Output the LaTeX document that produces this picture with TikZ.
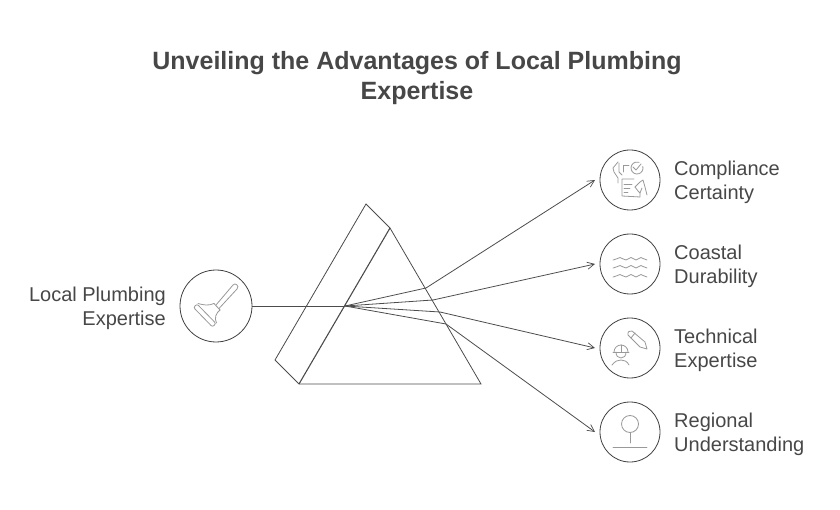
\documentclass[tikz,border=0pt]{standalone}
\usepackage{fontspec}
\setmainfont{Liberation Sans}
\usetikzlibrary{arrows.meta}
\tikzset{
  x=1pt,y=-1pt,
  ink/.style={draw=black!70,line width=0.8pt},
  ring/.style={circle,draw=black!75,line width=0.8pt,minimum size=60pt,inner sep=0pt,fill=white},
  beam/.style={draw=black!70,line width=0.8pt},
  ray/.style={beam,-{Straight Barb[length=7pt,width=7pt,line width=0.7pt]}},
  glyph/.style={draw=black!40,line width=0.8pt,line join=round,line cap=round},
  lab/.style={text=black!72,font=\fontsize{20}{24}\selectfont,inner sep=0pt},
  ttl/.style={text=black!72,font=\bfseries\fontsize{25}{30}\selectfont,align=center,inner sep=0pt}
}
\begin{document}
\begin{tikzpicture}
\useasboundingbox (0,0) rectangle (840,510);
\node[ttl] (title) at (417,78.5) {Unveiling the Advantages of Local Plumbing\\Expertise};

% prism
\coordinate (pt) at (390,228);
\coordinate (pb) at (299,384);
\coordinate (pr) at (481,384);
\coordinate (ft) at (366,204);
\coordinate (fb) at (275,360);
\coordinate (hit) at (345,306);
\draw[ink] (pt) -- (pr) -- (pb);
\draw[ink,line width=1.1pt] (pb) -- (pt);
\draw[ink] (pt) -- (ft) -- (fb) -- (pb);

% nodes
\node[ring,minimum size=72pt] (src) at (216,306) {};
\node[ring] (n1) at (630,180) {};
\node[ring] (n2) at (630,264) {};
\node[ring] (n3) at (630,348) {};
\node[ring] (n4) at (630,432) {};

% labels
\node[lab,anchor=east,align=right] (lsrc) at (166,308) {Local Plumbing\\Expertise};
\node[lab,anchor=west,align=left] (l1) at (674,182) {Compliance\\Certainty};
\node[lab,anchor=west,align=left] (l2) at (674,266) {Coastal\\Durability};
\node[lab,anchor=west,align=left] (l3) at (674,350) {Technical\\Expertise};
\node[lab,anchor=west,align=left] (l4) at (674,434) {Regional\\Understanding};

% beams
\coordinate (e1) at (426,288);
\coordinate (e2) at (433,300);
\coordinate (e3) at (440,312);
\coordinate (e4) at (446,324);
\coordinate (t1) at (595,180);
\coordinate (t2) at (595,264);
\coordinate (t3) at (595,348);
\coordinate (t4) at (595,432);
\draw[beam] (src) -- (hit);
\draw[beam] (hit) -- (e1);
\draw[beam] (hit) -- (e2);
\draw[beam] (hit) -- (e3);
\draw[beam] (hit) -- (e4);
\draw[ray] (e1) -- (t1);
\draw[ray] (e2) -- (t2);
\draw[ray] (e3) -- (t3);
\draw[ray] (e4) -- (t4);

% plunger
\draw[glyph,rounded corners=2pt] (193.5,307.5) -- (197,304) -- (216,323.5) -- (212.5,327) -- cycle;
\draw[glyph] (198,303.5) .. controls (203,305) and (209,306) .. (214,303.5);
\draw[glyph] (216.5,323) .. controls (214,318) and (216,313) .. (220,310);
\draw[glyph] (214,303.5) -- (220,310);
\draw[glyph] (216,305) -- (233,285) .. controls (235,282) and (240,286) .. (237,289) -- (219,308.5);

% compliance icon
\draw[glyph] (634,179) -- (622,179) -- (622,196) -- (640,197) -- (640,193);
\draw[glyph] (629,165) -- (623,165) -- (623,172);
\draw[glyph] (624,184) -- (632,184);
\draw[glyph] (624,188) -- (630,188);
\draw[glyph] (624,192) -- (628,192);
\draw[glyph] (642.8,166.45) arc[start angle=-15,end angle=290,radius=6];
\draw[glyph] (633,167) -- (636,170) -- (641,164);
\draw[glyph] (618,162) -- (613,168) -- (614,172) -- (618,178) -- (618,183);
\draw[glyph] (619,163) -- (619,172) -- (622,175);
\draw[glyph] (635,187) -- (640,182) -- (643,180) -- (645,187) -- (647,195);
\draw[glyph] (635,187) -- (638,191) -- (640,193) -- (642,188);

% waves
\foreach \yy in {260,268,277}{
  \draw[glyph] (613,\yy) .. controls (616,\yy) and (618,\yy-2.5) .. (620,\yy-2.5)
    .. controls (622,\yy-2.5) and (623,\yy) .. (626,\yy)
    .. controls (628,\yy) and (629,\yy-2.5) .. (631,\yy-2.5)
    .. controls (633,\yy-2.5) and (634,\yy) .. (636,\yy)
    .. controls (638,\yy) and (639,\yy-2.5) .. (641,\yy-2.5)
    .. controls (643,\yy-2.5) and (644,\yy) .. (647,\yy);
}

% technical icon
\draw[glyph] (614,352) arc[start angle=180,end angle=360,radius=7];
\draw[glyph] (613,352) -- (629,352);
\draw[glyph] (621,345) -- (621,352);
\draw[glyph] (616,352) .. controls (616,356) and (618,358) .. (621,358)
  .. controls (624,358) and (626,356) .. (626,352);
\draw[glyph] (612,365) .. controls (615,361) and (618,360) .. (621,360)
  .. controls (624,360) and (627,361) .. (629,365);
\draw[glyph] (632,331) -- (645,342) -- (647,349) -- (640,347) -- (628,335)
  .. controls (627,332) and (630,330) .. (632,331);
\draw[glyph] (635,333) -- (631,338);

% regional icon
\draw[glyph] (630,424) circle (8.5);
\draw[glyph] (630,433) -- (630,443);
\draw[glyph] (613,447) -- (647,447);
\end{tikzpicture}
\end{document}
